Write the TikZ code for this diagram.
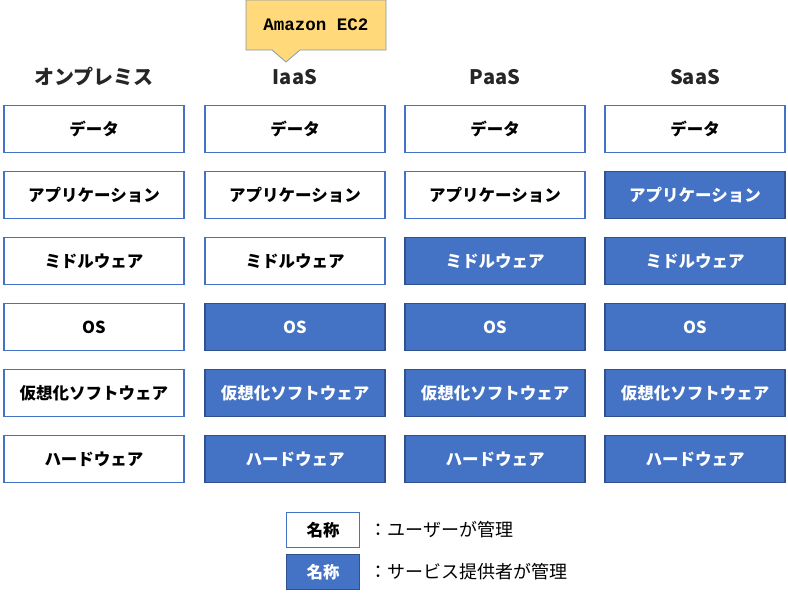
\documentclass[tikz,border=0pt]{standalone}
\usepackage{fontspec}
\setmainfont{Noto Sans CJK JP}
\setmonofont{Liberation Mono}
\usetikzlibrary{positioning}
\definecolor{provblue}{HTML}{4472C4}
\definecolor{provedge}{HTML}{2F528F}
\definecolor{notefill}{HTML}{FFD97A}
\definecolor{noteedge}{HTML}{8497B0}
\begin{document}
\begin{tikzpicture}[x=1pt,y=-1pt,
        userbox/.style={rectangle, draw=provblue, line width=1.2pt, fill=white, minimum width=180pt, minimum height=47pt, font=\fontsize{16.5}{18}\selectfont\bfseries, text=black},
        provbox/.style={userbox, draw=provedge, fill=provblue, text=white},
        head/.style={font=\fontsize{20}{22}\selectfont\bfseries, text=black!85}
    ]
        \useasboundingbox (0,0) rectangle (788,600);

        % Column headers
        \node (h1) [head] at (94,77) {オンプレミス};
        \node (h2) [head] at (295,77) {IaaS};
        \node (h3) [head] at (495,77) {PaaS};
        \node (h4) [head] at (695,77) {SaaS};

        % Stack rows: column / x / number of user rows
        \foreach \c/\x/\u in {1/94/6, 2/295/3, 3/495/2, 4/695/1} {
            \foreach \r/\txt in {1/データ, 2/アプリケーション, 3/ミドルウェア, 4/OS, 5/仮想化ソフトウェア, 6/ハードウェア} {
                \ifnum\r>\u
                    \node (b\c\r) [provbox] at (\x,63+66*\r) {\txt};
                \else
                    \node (b\c\r) [userbox] at (\x,63+66*\r) {\txt};
                \fi
            }
        }

        % Callout
        \draw [draw=noteedge, fill=notefill, line width=0.8pt] (246,0) -- (386,0) -- (386,50) -- (300,50) -- (286,62) -- (272,50) -- (246,50) -- cycle;
        \node (ec2) at (316,25) {\fontsize{17.5}{19}\selectfont\ttfamily\bfseries Amazon EC2};

        % Legend
        \node (lu) [userbox, minimum width=73pt, minimum height=35pt] at (323,530) {名称};
        \node (lp) [provbox, minimum width=73pt, minimum height=35pt] at (323,572) {名称};
        \node (lut) [right=6pt of lu, font=\fontsize{18}{20}\selectfont] {：ユーザーが管理};
        \node (lpt) [right=6pt of lp, font=\fontsize{18}{20}\selectfont] {：サービス提供者が管理};
    \end{tikzpicture}
\end{document}
